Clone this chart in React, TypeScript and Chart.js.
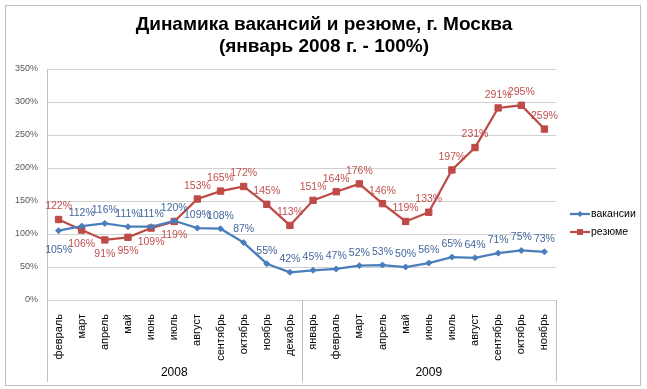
import React, { useEffect, useRef } from 'react';
import { Chart, registerables } from 'chart.js';

Chart.register(...registerables);

const months2008 = ['февраль', 'март', 'апрель', 'май', 'июнь', 'июль', 'август', 'сентябрь', 'октябрь', 'ноябрь', 'декабрь'];
const months2009 = ['январь', 'февраль', 'март', 'апрель', 'май', 'июнь', 'июль', 'август', 'сентябрь', 'октябрь', 'ноябрь'];
const years = ['2008', '2009'];
const categories = [...months2008, ...months2009];

const vacancies = [105, 112, 116, 111, 111, 120, 109, 108, 87, 55, 42, 45, 47, 52, 53, 50, 56, 65, 64, 71, 75, 73];
const resumes = [122, 106, 91, 95, 109, 119, 153, 165, 172, 145, 113, 151, 164, 176, 146, 119, 133, 197, 231, 291, 295, 259];

const vacancyLabelPos = ['below', 'above', 'above', 'above', 'above', 'above', 'above', 'above', 'above', 'above', 'above',
  'above', 'above', 'above', 'above', 'above', 'above', 'above', 'above', 'above', 'above', 'above'];
const resumeLabelPos = ['above', 'below', 'below', 'below', 'below', 'below', 'above', 'above', 'above', 'above', 'above',
  'above', 'above', 'above', 'above', 'above', 'above', 'above', 'above', 'above', 'above', 'above'];

const seriesNames = ['вакансии', 'резюме'];
const titleLines = ['Динамика вакансий и резюме, г. Москва', '(январь 2008 г. - 100%)'];
const yMax = 350;
const yStep = 50;

const BLUE = '#4a7ebb';
const RED = '#be4b48';
const BLUE_TXT = '#44679a';
const RED_TXT = '#c0504d';
const FONT = '"Liberation Sans", Arial, sans-serif';

const decorPlugin = {
  id: 'decor',
  beforeDraw(chart: any) {
    const ctx = chart.ctx;
    ctx.save();
    ctx.fillStyle = '#ffffff';
    ctx.fillRect(0, 0, chart.width, chart.height);
    ctx.strokeStyle = '#bfbfbf';
    ctx.lineWidth = 1;
    ctx.strokeRect(5.5, 5.5, 635, 380);
    ctx.fillStyle = '#000000';
    ctx.font = 'bold 19px ' + FONT;
    ctx.textAlign = 'center';
    ctx.textBaseline = 'alphabetic';
    ctx.fillText(titleLines[0], 324, 30);
    ctx.fillText(titleLines[1], 324, 52);
    ctx.restore();
  },
  afterDatasetsDraw(chart: any) {
    const ctx = chart.ctx;
    ctx.save();
    ctx.font = '10.5px ' + FONT;
    ctx.textAlign = 'center';
    ctx.textBaseline = 'middle';
    const cfg = [
      { pos: vacancyLabelPos, color: BLUE_TXT, up: 13, down: 19 },
      { pos: resumeLabelPos, color: RED_TXT, up: 13, down: 14 },
    ];
    chart.data.datasets.forEach((ds: any, di: number) => {
      const meta = chart.getDatasetMeta(di);
      ctx.fillStyle = cfg[di].color;
      meta.data.forEach((pt: any, i: number) => {
        const off = cfg[di].pos[i] === 'above' ? -cfg[di].up : cfg[di].down;
        ctx.fillText(ds.data[i] + '%', pt.x, pt.y + off);
      });
    });
    ctx.restore();
  },
  afterDraw(chart: any) {
    const ctx = chart.ctx;
    const xs = chart.scales.x;
    const area = chart.chartArea;
    ctx.save();
    const n1 = months2008.length;
    const mid = (xs.getPixelForValue(n1 - 1) + xs.getPixelForValue(n1)) / 2;
    ctx.strokeStyle = '#bfbfbf';
    ctx.lineWidth = 1;
    [area.left, mid, area.right].forEach((x) => {
      const px = Math.round(x) + 0.5;
      ctx.beginPath();
      ctx.moveTo(px, area.bottom);
      ctx.lineTo(px, 382);
      ctx.stroke();
    });
    ctx.fillStyle = '#000000';
    ctx.font = '12px ' + FONT;
    ctx.textAlign = 'center';
    ctx.textBaseline = 'middle';
    ctx.fillText(years[0], (area.left + mid) / 2, 373);
    ctx.fillText(years[1], (mid + area.right) / 2, 373);
    const items = [
      { name: seriesNames[0], color: BLUE, style: 'rectRot', y: 214 },
      { name: seriesNames[1], color: RED, style: 'rect', y: 232 },
    ];
    items.forEach((it) => {
      ctx.strokeStyle = it.color;
      ctx.lineWidth = 2.25;
      ctx.beginPath();
      ctx.moveTo(570, it.y);
      ctx.lineTo(590, it.y);
      ctx.stroke();
      ctx.fillStyle = it.color;
      if (it.style === 'rect') {
        ctx.fillRect(577, it.y - 3, 6, 6);
      } else {
        ctx.beginPath();
        ctx.moveTo(580, it.y - 3);
        ctx.lineTo(583, it.y);
        ctx.lineTo(580, it.y + 3);
        ctx.lineTo(577, it.y);
        ctx.closePath();
        ctx.fill();
      }
      ctx.fillStyle = '#000000';
      ctx.font = '10.5px ' + FONT;
      ctx.textAlign = 'left';
      ctx.fillText(it.name, 591, it.y);
    });
    ctx.restore();
  },
};

export default function App() {
  const ref = useRef<HTMLCanvasElement>(null);
  useEffect(() => {
    document.body.style.margin = '0';
    const canvas = ref.current;
    if (!canvas) return;
    const chart = new Chart(canvas, {
      type: 'line',
      data: {
        labels: categories,
        datasets: [
          {
            label: seriesNames[0],
            data: vacancies,
            borderColor: BLUE,
            backgroundColor: BLUE,
            borderWidth: 2.25,
            pointStyle: 'rectRot',
            pointRadius: 3,
            pointBorderWidth: 1,
            tension: 0,
          },
          {
            label: seriesNames[1],
            data: resumes,
            borderColor: RED,
            backgroundColor: RED,
            borderWidth: 2.25,
            pointStyle: 'rect',
            pointRadius: 4.5,
            pointBorderWidth: 1,
            tension: 0,
          },
        ],
      },
      options: {
        responsive: false,
        animation: false,
        devicePixelRatio: 1,
        layout: { padding: { left: 0, right: 91, top: 69, bottom: 0 } },
        plugins: {
          legend: { display: false },
          title: { display: false },
          tooltip: { enabled: false },
        },
        scales: {
          x: {
            type: 'category',
            offset: true,
            grid: { display: false },
            border: { display: false },
            ticks: {
              autoSkip: false,
              minRotation: 90,
              maxRotation: 90,
              padding: 6,
              color: '#000000',
              font: { family: FONT, size: 11 },
            },
            afterFit: (scale: any) => {
              scale.height = 89;
            },
          },
          y: {
            min: 0,
            max: yMax,
            ticks: {
              stepSize: yStep,
              padding: 9,
              color: '#595959',
              font: { family: FONT, size: 9 },
              callback: (v: any) => v + '%',
            },
            grid: { color: '#d0d0d0', drawTicks: false },
            border: { display: true, color: '#bfbfbf' },
            afterFit: (scale: any) => {
              scale.width = 47;
            },
          },
        },
      },
      plugins: [decorPlugin],
    });
    return () => chart.destroy();
  }, []);
  return <canvas ref={ref} width={647} height={389} style={{ display: 'block' }} />;
}
